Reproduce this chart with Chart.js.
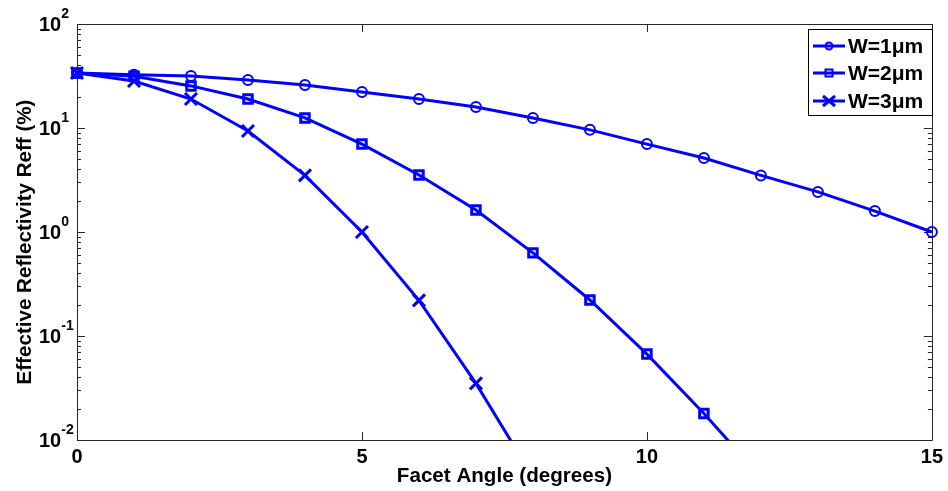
<!DOCTYPE html>
<html>
<head>
<meta charset="utf-8">
<script src="https://cdn.jsdelivr.net/npm/chart.js@4.4.0/dist/chart.umd.min.js"></script>
<style>
html, body { margin: 0; padding: 0; background: #fff; }
</style>
</head>
<body>
<canvas id="chart" width="948" height="491"></canvas>
<script>
// data
const angles = [0, 1, 2, 3, 4, 5, 6, 7, 8, 9, 10, 11, 12, 13, 14, 15];
const w1 = [33.8, 32.5, 31.6, 29.0, 25.9, 22.2, 19.0, 15.9, 12.5, 9.6, 7.0, 5.15, 3.5, 2.43, 1.59, 1.0];
const w2 = [33.8, 31.5, 25.4, 19.0, 12.5, 7.0, 3.53, 1.63, 0.63, 0.222, 0.067, 0.018, 0.0044];
const w3 = [33.8, 28.3, 19.0, 9.36, 3.5, 1.0, 0.22, 0.035, 0.0044];
const seriesNames = ['W=1\u03bcm', 'W=2\u03bcm', 'W=3\u03bcm'];
const xTicks = [0, 5, 10, 15];
const yTicks = [0.01, 0.1, 1, 10, 100];
const yExponents = ['-2', '-1', '0', '1', '2'];
const xTitle = 'Facet Angle (degrees)';
const yTitle = 'Effective Reflectivity Reff (%)';

const blue = '#0000ff';
const axisColor = '#262626';
const font = '"Liberation Sans", Arial, sans-serif';

function toPoints(vals) {
    return vals.map((v, i) => ({ x: angles[i], y: v }));
}

const markers = ['circle', 'rect', 'crossRot'];
const radii = [5, 6, 8.5];
const markerWidths = [2, 3, 3];

const datasets = [w1, w2, w3].map((vals, i) => ({
    label: seriesNames[i],
    data: toPoints(vals),
    borderColor: blue,
    borderWidth: 3,
    pointStyle: markers[i],
    pointRadius: radii[i],
    pointBorderWidth: markerWidths[i],
    pointBorderColor: blue,
    pointBackgroundColor: 'rgba(0,0,0,0)',
    clip: { left: 12, top: 12, right: 12, bottom: 0 },
    tension: 0
}));

// frame, inside ticks, y labels with superscripts, y title, boxed legend
const decor = {
    id: 'decor',
    beforeDatasetsDraw(chart) {
        const ctx = chart.ctx;
        const { left, right, top, bottom } = chart.chartArea;
        const xs = chart.scales.x, ys = chart.scales.y;
        ctx.save();
        ctx.strokeStyle = axisColor;
        ctx.lineWidth = 1;
        ctx.beginPath();
        ctx.rect(Math.round(left) + 0.5, Math.round(top) + 0.5, Math.round(right - left), Math.round(bottom - top));
        xTicks.forEach(t => {
            const px = Math.round(xs.getPixelForValue(t)) + 0.5;
            ctx.moveTo(px, bottom); ctx.lineTo(px, bottom - 8);
            ctx.moveTo(px, top); ctx.lineTo(px, top + 8);
        });
        for (let k = -2; k <= 2; k++) {
            for (let m = 1; m <= 9; m++) {
                const v = m * Math.pow(10, k);
                if (v > 100) break;
                const py = Math.round(ys.getPixelForValue(v)) + 0.5;
                const len = m === 1 ? 8 : 4;
                ctx.moveTo(left, py); ctx.lineTo(left + len, py);
                ctx.moveTo(right, py); ctx.lineTo(right - len, py);
            }
        }
        ctx.stroke();
        ctx.restore();
    },
    afterDraw(chart) {
        const ctx = chart.ctx;
        const ys = chart.scales.y;
        ctx.save();
        ctx.fillStyle = '#000';
        ctx.textBaseline = 'middle';
        ctx.textAlign = 'left';
        yTicks.forEach((v, i) => {
            const py = ys.getPixelForValue(v);
            ctx.font = 'bold 20px ' + font;
            const baseW = ctx.measureText('10').width;
            const x0 = 39;
            ctx.fillText('10', x0, py + 1);
            ctx.font = 'bold 14px ' + font;
            ctx.fillText(yExponents[i], x0 + baseW, py - 10);
        });

        // y axis title
        ctx.save();
        ctx.translate(25.5, 242);
        ctx.rotate(-Math.PI / 2);
        ctx.textAlign = 'center';
        ctx.font = 'bold 20.6px ' + font;
        ctx.fillText(yTitle, 0, 0);
        ctx.restore();

        // legend
        const bx = 808, by = 29, bw = 124, bh = 86;
        ctx.fillStyle = '#fff';
        ctx.fillRect(bx, by, bw, bh);
        ctx.strokeStyle = '#000';
        ctx.lineWidth = 1;
        ctx.strokeRect(bx + 0.5, by + 0.5, bw, bh);
        const rows = [46, 73, 101];
        rows.forEach((ry, i) => {
            ctx.strokeStyle = blue;
            ctx.lineWidth = 3;
            ctx.beginPath();
            ctx.moveTo(813, ry); ctx.lineTo(845, ry);
            ctx.stroke();
            ctx.lineWidth = 2;
            ctx.beginPath();
            if (i === 0) {
                ctx.arc(829, ry, 3.5, 0, Math.PI * 2);
            } else if (i === 1) {
                ctx.rect(825.5, ry - 3.5, 7, 7);
            } else {
                ctx.lineWidth = 3;
                ctx.moveTo(823, ry - 5); ctx.lineTo(835, ry + 5);
                ctx.moveTo(835, ry - 5); ctx.lineTo(823, ry + 5);
            }
            ctx.stroke();
            ctx.fillStyle = '#000';
            ctx.font = 'bold 21px ' + font;
            ctx.textBaseline = 'middle';
            ctx.textAlign = 'left';
            ctx.fillText(seriesNames[i], 848, ry + 1);
        });
        ctx.restore();
    }
};

new Chart(document.getElementById('chart'), {
    type: 'line',
    data: { datasets },
    options: {
        responsive: false,
        animation: false,
        layout: { padding: { top: 24, right: 14, left: 0, bottom: 0 } },
        plugins: { legend: { display: false }, tooltip: { enabled: false } },
        scales: {
            x: {
                type: 'linear',
                min: 0,
                max: 15,
                afterBuildTicks: s => { s.ticks = xTicks.map(v => ({ value: v })); },
                afterFit: s => { s.height = 51; },
                grid: { display: false, drawTicks: false },
                border: { display: false },
                ticks: {
                    color: '#000',
                    font: { family: font, size: 20, weight: 'bold' },
                    padding: 5,
                    maxRotation: 0
                },
                title: {
                    display: true,
                    text: xTitle,
                    color: '#000',
                    font: { family: font, size: 20.6, weight: 'bold' },
                    padding: { top: 1, bottom: 2 }
                }
            },
            y: {
                type: 'logarithmic',
                min: 0.01,
                max: 100,
                afterFit: s => { s.width = 77; },
                grid: { display: false, drawTicks: false },
                border: { display: false },
                ticks: { display: false },
                title: { display: false }
            }
        }
    },
    plugins: [decor]
});
</script>
</body>
</html>
